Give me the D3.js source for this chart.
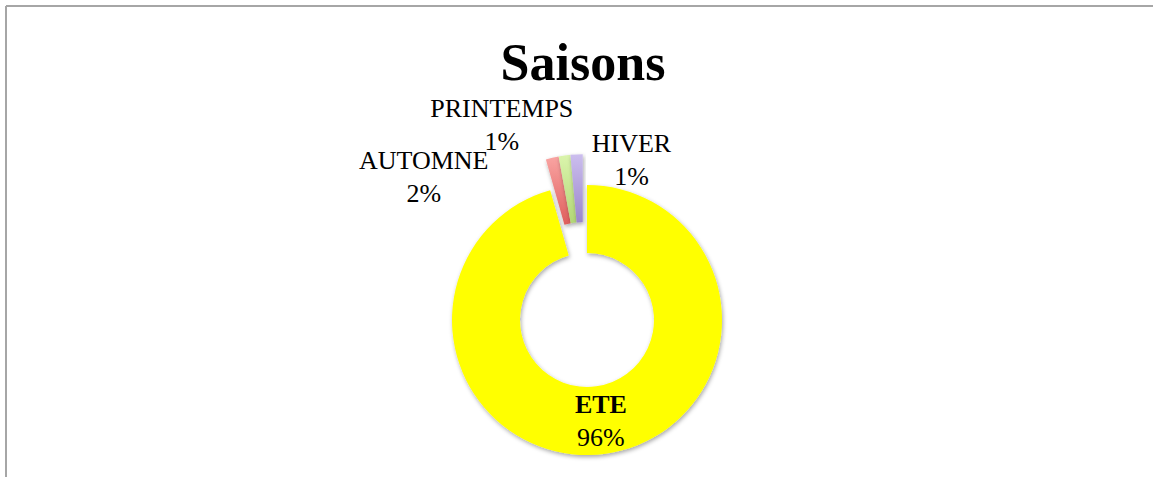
<!DOCTYPE html>
<html>
<head>
<meta charset="utf-8">
<script src="https://cdn.jsdelivr.net/npm/d3@7"></script>
<style>
  body { margin: 0; background: #fff; }
  text { font-family: "Liberation Serif", "DejaVu Serif", serif; }
</style>
</head>
<body>
<div id="chart"></div>
<script>
var saisons = ["ETE", "AUTOMNE", "PRINTEMPS", "HIVER"];
var valeurs = [95.6, 1.55, 1.4, 1.45];
var etiquettes = ["96%", "2%", "1%", "1%"];

var w = 1153, h = 477;
var cx = 587, cy = 320, rOut = 135, rIn = 67;

// colours : top / bottom of each gradient
var couleurs = {
  ETE: ["#ffff00", "#ffff00"],
  AUTOMNE: ["#f9a4a2", "#df5e5c"],
  PRINTEMPS: ["#daf4ac", "#b2d676"],
  HIVER: ["#ccbeee", "#9a86cc"]
};
// explode distance for the small slices
var eclate = { ETE: 0, AUTOMNE: 31, PRINTEMPS: 31, HIVER: 31 };
// label nudges from the centroid (dx, dy of first line baseline)
var decal = {
  ETE: [0, -7],
  AUTOMNE: [-126, 10],
  PRINTEMPS: [-63, -40],
  HIVER: [52, -3]
};

var svg = d3.select("#chart").append("svg")
    .attr("width", w).attr("height", h);

var defs = svg.append("defs");

var ombre = defs.append("filter").attr("id", "ombre")
    .attr("x", "-20%").attr("y", "-20%").attr("width", "140%").attr("height", "140%");
ombre.append("feDropShadow")
    .attr("dx", 1).attr("dy", 2).attr("stdDeviation", 2)
    .attr("flood-color", "#000").attr("flood-opacity", 0.35);

saisons.forEach(function(s, i) {
  var g = defs.append("linearGradient").attr("id", "grad" + i)
      .attr("x1", 0).attr("y1", 0).attr("x2", 0).attr("y2", 1);
  g.append("stop").attr("offset", "0%").attr("stop-color", couleurs[s][0]);
  g.append("stop").attr("offset", "100%").attr("stop-color", couleurs[s][1]);
});

// frame (only top and left visible in the picture)
svg.append("line").attr("x1", 6).attr("y1", 6).attr("x2", w).attr("y2", 6)
    .attr("stroke", "#a6a6a6").attr("stroke-width", 2);
svg.append("line").attr("x1", 6).attr("y1", 6).attr("x2", 6).attr("y2", h)
    .attr("stroke", "#a6a6a6").attr("stroke-width", 2);

// title
svg.append("text")
    .attr("x", 583).attr("y", 80)
    .attr("text-anchor", "middle")
    .attr("font-size", "52px")
    .attr("font-weight", "bold")
    .text("Saisons");

var pie = d3.pie().sort(null).value(function(d) { return d.v; });
var donnees = saisons.map(function(s, i) { return { s: s, v: valeurs[i], lab: etiquettes[i], i: i }; });
var arcs = pie(donnees);

var arc = d3.arc().innerRadius(rIn).outerRadius(rOut);
var arcLabel = d3.arc().innerRadius(rOut + 30).outerRadius(rOut + 30);

// the small slices are pulled out together, along the middle of the group
var petits = arcs.filter(function(a) { return eclate[a.data.s] > 0; });
var milieu = (d3.min(petits, function(a) { return a.startAngle; }) +
              d3.max(petits, function(a) { return a.endAngle; })) / 2;

function depl(a) {
  var d = eclate[a.data.s];
  if (!d) return [0, 0];
  return [d * Math.sin(milieu), -d * Math.cos(milieu)];
}

var container = svg.append("g")
    .attr("transform", "translate(" + cx + "," + cy + ")");

container.selectAll("path.part")
    .data(arcs).enter().append("path")
    .attr("class", "part")
    .attr("d", arc)
    .attr("transform", function(a) { var t = depl(a); return "translate(" + t[0] + "," + t[1] + ")"; })
    .attr("fill", function(a) { return "url(#grad" + a.data.i + ")"; })
    .attr("filter", "url(#ombre)");

// labels
container.selectAll("text.lab")
    .data(arcs).enter().append("text")
    .attr("class", "lab")
    .attr("text-anchor", "middle")
    .attr("font-size", "26px")
    .attr("fill", "#000")
    .each(function(a) {
      var p = a.data.s == "ETE" ? arc.centroid(a) : arcLabel.centroid(a);
      var x = p[0] + decal[a.data.s][0], y = p[1] + decal[a.data.s][1];
      var t = d3.select(this);
      t.append("tspan").attr("x", x).attr("y", y)
          .attr("font-weight", a.data.s == "ETE" ? "bold" : "normal")
          .text(a.data.s);
      t.append("tspan").attr("x", x).attr("y", y + 33)
          .text(a.data.lab);
    });
</script>
</body>
</html>
